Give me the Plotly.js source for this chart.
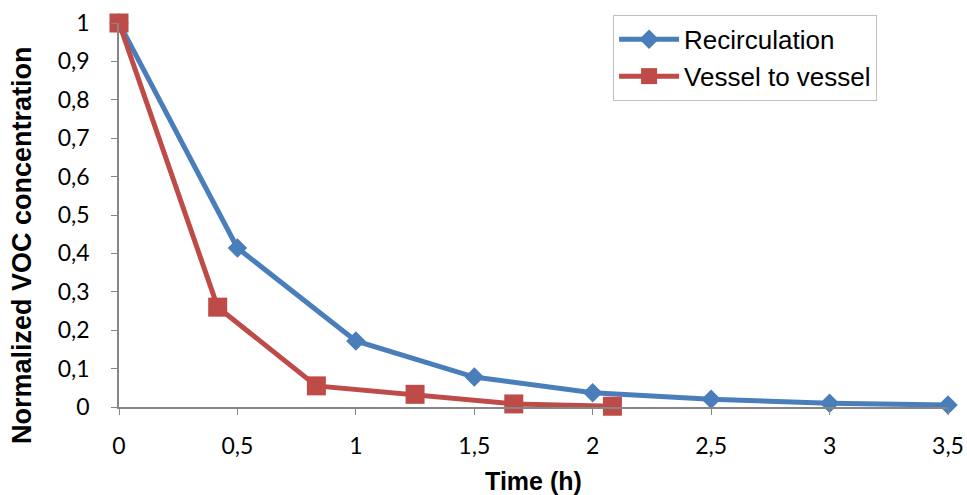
<!DOCTYPE html>
<html>
<head>
<meta charset="utf-8">
<script src="https://cdn.plot.ly/plotly-3.0.1.min.js"></script>
<style>html,body{margin:0;padding:0;background:#fff;}#chart{width:967px;height:495px;}</style>
</head>
<body>
<div id="chart"></div>
<script>
const recircTime = [0, 0.5, 1, 1.5, 2, 2.5, 3, 3.5];
const recircConc = [1, 0.414, 0.172, 0.078, 0.037, 0.02, 0.01, 0.005];
const vesselTime = [0, 0.4167, 0.8333, 1.25, 1.6667, 2.0833];
const vesselConc = [1, 0.26, 0.055, 0.033, 0.008, 0.002];
const xTicks = [0, 0.5, 1, 1.5, 2, 2.5, 3, 3.5];
const yTicks = [0, 0.1, 0.2, 0.3, 0.4, 0.5, 0.6, 0.7, 0.8, 0.9, 1];

const traces = [
  {x: recircTime, y: recircConc, name: 'Recirculation', mode: 'lines+markers',
   line: {color: '#4A7EBB', width: 5}, marker: {symbol: 'diamond', size: 15, color: '#4A7EBB'}, cliponaxis: false},
  {x: vesselTime, y: vesselConc, name: 'Vessel to vessel', mode: 'lines+markers',
   line: {color: '#BE4B48', width: 5}, marker: {symbol: 'square', size: 19, color: '#BE4B48'}, cliponaxis: false}
];
const layout = {
  width: 967, height: 495,
  margin: {l: 119, r: 19, t: 23, b: 88},
  separators: ', ',
  paper_bgcolor: '#fff', plot_bgcolor: '#fff',
  showlegend: true,
  legend: {x: 0.596, y: 1.021, xanchor: 'left', yanchor: 'top', bordercolor: '#BFBFBF', borderwidth: 1,
    font: {family: 'Liberation Sans, Arial', size: 26, color: '#000'}, tracegroupgap: 0, itemwidth: 60},
  xaxis: {range: [0, 3.5], tickvals: xTicks, ticks: 'outside', ticklen: 6, tickcolor: '#868686',
    showline: true, linecolor: '#868686', linewidth: 1.5, showgrid: false, zeroline: false,
    tickfont: {family: 'Lato, Noto Sans', size: 23, color: '#000'}, ticklabelstandoff: 12,
    title: {text: '<b>Time (h)</b>', font: {family: 'Liberation Sans, Arial', size: 25, color: '#000'}, standoff: 16}},
  yaxis: {range: [0, 1], tickvals: yTicks, ticks: 'outside', ticklen: 6, tickcolor: '#868686',
    showline: true, linecolor: '#868686', linewidth: 1.5, showgrid: false, zeroline: false,
    tickfont: {family: 'Lato, Noto Sans', size: 23, color: '#000'}, ticklabelstandoff: 17},
  annotations: [{
    text: '<b>Normalized VOC concentration</b>', textangle: -90, showarrow: false,
    xref: 'paper', yref: 'paper', x: -0.117, y: 0.422, xanchor: 'center', yanchor: 'middle',
    font: {family: 'Liberation Sans, Arial', size: 27, color: '#000'}
  }]
};
Plotly.newPlot('chart', traces, layout, {displayModeBar: false});
</script>
</body>
</html>
